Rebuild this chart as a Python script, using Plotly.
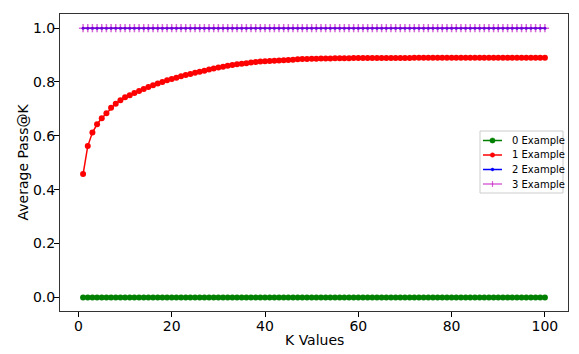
import plotly.graph_objects as go

k_values = list(range(1, 101))

series_names = ["0 Example", "1 Example", "2 Example", "3 Example"]

pass_0 = [0.0] * 100
pass_1 = [
    0.458, 0.562, 0.612, 0.643, 0.665, 0.684, 0.704, 0.719, 0.732, 0.743,
    0.751, 0.759, 0.767, 0.774, 0.781, 0.788, 0.794, 0.800, 0.806, 0.811,
    0.816, 0.821, 0.826, 0.830, 0.834, 0.838, 0.842, 0.846, 0.850, 0.854,
    0.857, 0.860, 0.863, 0.866, 0.868, 0.870, 0.872, 0.874, 0.876, 0.877,
    0.878, 0.879, 0.880, 0.881, 0.882, 0.883, 0.884, 0.885, 0.885, 0.886,
    0.886, 0.887, 0.887, 0.887, 0.888, 0.888, 0.888, 0.888, 0.889, 0.889,
    0.889, 0.889, 0.889, 0.889, 0.889, 0.889, 0.889, 0.889, 0.889, 0.889,
    0.889, 0.890, 0.890, 0.890, 0.890, 0.890, 0.890, 0.890, 0.890, 0.890,
    0.890, 0.890, 0.890, 0.890, 0.890, 0.890, 0.890, 0.890, 0.890, 0.890,
    0.890, 0.890, 0.890, 0.890, 0.890, 0.890, 0.890, 0.890, 0.890, 0.890,
]
pass_2 = [1.0] * 100
pass_3 = [1.0] * 100

x_ticks = [0, 20, 40, 60, 80, 100]
y_ticks = [0.0, 0.2, 0.4, 0.6, 0.8, 1.0]

x_title = "K Values"
y_title = "Average Pass@K"

colors = ["#008000", "#ff0000", "#0000ff", "#bf00bf"]
opacities = [1.0, 1.0, 1.0, 0.6]

fig = go.Figure()
fig.add_trace(go.Scatter(x=k_values, y=pass_0, name=series_names[0], mode="lines+markers",
                         line=dict(color=colors[0], width=1.5),
                         marker=dict(symbol="circle", size=6, color=colors[0])))
fig.add_trace(go.Scatter(x=k_values, y=pass_1, name=series_names[1], mode="lines+markers",
                         line=dict(color=colors[1], width=1.5),
                         marker=dict(symbol="circle", size=6, color=colors[1])))
fig.add_trace(go.Scatter(x=k_values, y=pass_2, name=series_names[2], mode="lines+markers",
                         line=dict(color=colors[2], width=1.5),
                         marker=dict(symbol="circle", size=3, color=colors[2])))
fig.add_trace(go.Scatter(x=k_values, y=pass_3, name=series_names[3], mode="lines+markers",
                         opacity=opacities[3],
                         line=dict(color=colors[3], width=1.5),
                         marker=dict(symbol="cross-thin", size=6, color=colors[3],
                                     line=dict(color=colors[3], width=1.5))))

# ---- plot-area geometry (pixels) ----
W, H = 579, 354
L, R, T, B = 60, 11, 14, 43
PW, PH = W - L - R, H - T - B


def px(x):
    return (x - L) / PW


def py(y):
    return (H - B - y) / PH


shapes = []
annotations = []

# manual matplotlib-style legend
box = dict(x0=480, x1=563, y0=131, y1=193)
shapes.append(dict(type="rect", xref="paper", yref="paper",
                   x0=px(box["x0"]), x1=px(box["x1"]), y0=py(box["y1"]), y1=py(box["y0"]),
                   line=dict(color="#cccccc", width=1), fillcolor="rgba(255,255,255,0.85)",
                   layer="above"))
entry_y = [140.5, 155.0, 169.5, 184.0]
for i, name in enumerate(series_names):
    yy = entry_y[i]
    c = colors[i]
    op = opacities[i]
    shapes.append(dict(type="line", xref="paper", yref="paper",
                       x0=px(483), x1=px(502), y0=py(yy), y1=py(yy),
                       line=dict(color=c, width=1.5), opacity=op, layer="above"))
    if i in (0, 1):
        r = 2.6 if i == 0 else 2.2
        shapes.append(dict(type="circle", xref="paper", yref="paper",
                           x0=px(492.5 - r), x1=px(492.5 + r), y0=py(yy + r), y1=py(yy - r),
                           line=dict(color=c, width=0.5), fillcolor=c, layer="above"))
    elif i == 2:
        r = 1.4
        shapes.append(dict(type="circle", xref="paper", yref="paper",
                           x0=px(492.5 - r), x1=px(492.5 + r), y0=py(yy + r), y1=py(yy - r),
                           line=dict(color=c, width=0.5), fillcolor=c, layer="above"))
    else:
        shapes.append(dict(type="line", xref="paper", yref="paper",
                           x0=px(492.5), x1=px(492.5), y0=py(yy + 3), y1=py(yy - 3),
                           line=dict(color=c, width=1.2), opacity=op, layer="above"))
    annotations.append(dict(text=name, xref="paper", yref="paper",
                            x=px(509.5), y=py(yy), xanchor="left", yanchor="middle",
                            showarrow=False, font=dict(size=10, color="#000")))

# axis titles placed like matplotlib
annotations.append(dict(text=x_title, xref="paper", yref="paper", x=0.5, y=py(339.5),
                        xanchor="center", yanchor="middle", showarrow=False,
                        font=dict(size=14, color="#000")))
annotations.append(dict(text=y_title, xref="paper", yref="paper", x=px(22), y=0.5,
                        xanchor="center", yanchor="middle", textangle=-90, showarrow=False,
                        font=dict(size=14, color="#000")))

font_family = "DejaVu Sans"
fig.update_layout(
    width=W, height=H,
    margin=dict(l=L, r=R, t=T, b=B, autoexpand=False),
    paper_bgcolor="white", plot_bgcolor="white",
    font=dict(family=font_family, size=14, color="#000"),
    showlegend=False,
    shapes=shapes,
    annotations=annotations,
    xaxis=dict(
        range=[-3.95, 104.95], tickvals=x_ticks, ticks="outside", ticklen=5,
        tickcolor="#000", showline=True, mirror=True, linecolor="#333", linewidth=1,
        showgrid=False, zeroline=False, tickfont=dict(size=14), automargin=False,
        ticklabelstandoff=-3,
    ),
    yaxis=dict(
        range=[-0.0505, 1.0525], tickvals=y_ticks, tickformat=".1f", ticks="outside",
        ticklen=5, tickcolor="#000", showline=True, mirror=True, linecolor="#333",
        linewidth=1, showgrid=False, zeroline=False, tickfont=dict(size=14),
        ticklabelstandoff=-4, automargin=False,
    ),
)

fig.write_html("out.html")
